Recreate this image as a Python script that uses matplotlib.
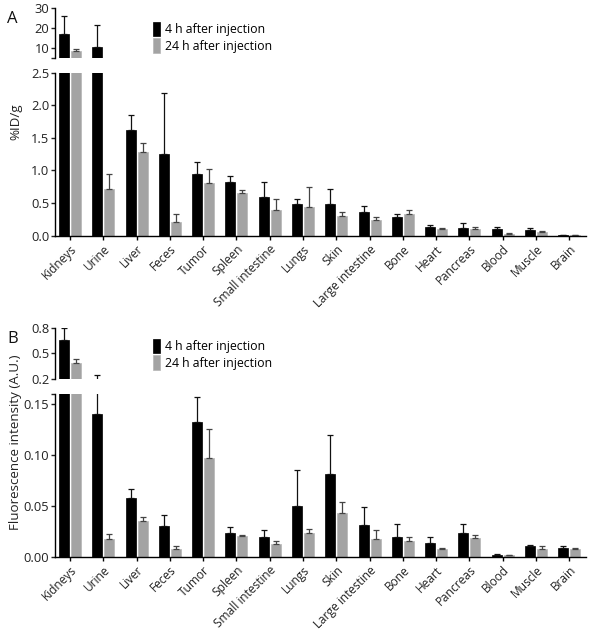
import numpy as np
import matplotlib
matplotlib.use("Agg")
import matplotlib.pyplot as plt

plt.rcParams['font.family'] = ['Open Sans', 'DejaVu Sans']

organs = ["Kidneys", "Urine", "Liver", "Feces", "Tumor", "Spleen", "Small intestine",
          "Lungs", "Skin", "Large intestine", "Bone", "Heart", "Pancreas", "Blood",
          "Muscle", "Brain"]

# panel A: %ID/g (mean, upper error)
a_4h = [16.8, 10.3, 1.62, 1.26, 0.95, 0.82, 0.60, 0.48, 0.48, 0.36, 0.29, 0.13, 0.12, 0.11, 0.08, 0.015]
a_4h_err = [9.0, 11.2, 0.23, 0.93, 0.18, 0.10, 0.23, 0.08, 0.24, 0.10, 0.04, 0.04, 0.075, 0.03, 0.04, 0.0]
a_24h = [8.6, 0.71, 1.29, 0.215, 0.81, 0.655, 0.39, 0.44, 0.30, 0.24, 0.34, 0.11, 0.11, 0.03, 0.05, 0.005]
a_24h_err = [1.1, 0.23, 0.13, 0.125, 0.22, 0.05, 0.18, 0.31, 0.06, 0.04, 0.05, 0.01, 0.02, 0.015, 0.015, 0.0]

# panel B: fluorescence intensity (A.U.)
b_4h = [0.66, 0.1405, 0.0577, 0.0304, 0.133, 0.0237, 0.0195, 0.050, 0.0815, 0.031, 0.0198,
        0.0135, 0.0234, 0.002, 0.0106, 0.0083]
b_4h_err = [0.14, 0.11, 0.0093, 0.0102, 0.024, 0.0053, 0.0069, 0.035, 0.0385, 0.0175, 0.0119,
            0.0057, 0.0089, 0.0005, 0.001, 0.002]
b_24h = [0.39, 0.0172, 0.0353, 0.0076, 0.0976, 0.0205, 0.0129, 0.0237, 0.0429, 0.0172, 0.0152,
         0.0076, 0.0182, 0.0015, 0.0073, 0.0073]
b_24h_err = [0.05, 0.0056, 0.0037, 0.0034, 0.0284, 0.001, 0.0029, 0.004, 0.0111, 0.0088, 0.0046,
             0.001, 0.0036, 0.0005, 0.0037, 0.0016]

BLACK = "#000000"
GREY = "#a3a3a3"
x = np.arange(len(organs))
w = 0.3
off = 0.18

fig = plt.figure(figsize=(5.9, 6.31), dpi=100)
L, W = 0.0932, 0.9


def draw_bars(ax, v4, e4, v24, e24):
    ax.bar(x - off, v4, w, color=BLACK, edgecolor=BLACK, linewidth=0.5,
           yerr=[np.zeros(len(v4)), e4], error_kw=dict(ecolor="#111111", elinewidth=0.9, capsize=2.2, capthick=0.9))
    ax.bar(x + off, v24, w, color=GREY, edgecolor="#b5b5b5", linewidth=0.5,
           yerr=[np.zeros(len(v24)), e24], error_kw=dict(ecolor="#444444", elinewidth=0.9, capsize=2.2, capthick=0.9))
    ax.set_xlim(-0.45, 15.5)
    for s in ("top", "right"):
        ax.spines[s].set_visible(False)
    ax.tick_params(axis="y", labelsize=9.3, length=3, width=1, pad=1, colors="#222222")
    ax.spines["left"].set_linewidth(1.0)
    ax.spines["bottom"].set_linewidth(1.0)


def panel(top_rect, bot_rect, v4, e4, v24, e24, top_lim, top_ticks, top_labels,
          bot_lim, bot_ticks, bot_labels, ylabel, letter, leg_y):
    axt = fig.add_axes(top_rect)
    axb = fig.add_axes(bot_rect)
    draw_bars(axt, v4, e4, v24, e24)
    draw_bars(axb, v4, e4, v24, e24)
    axt.set_ylim(*top_lim)
    axt.set_yticks(top_ticks)
    axt.set_yticklabels(top_labels)
    axt.spines["bottom"].set_visible(False)
    axt.set_xticks([])
    axb.set_ylim(*bot_lim)
    axb.set_yticks(bot_ticks)
    axb.set_yticklabels(bot_labels)
    axb.set_xticks(x)
    axb.set_xticklabels(organs, rotation=45, ha="right", rotation_mode="anchor", fontsize=8.6, color="#222222")
    axb.tick_params(axis="x", length=3, width=1, pad=2)
    # legend
    axt.legend(["4 h after injection", "24 h after injection"], loc="upper left",
               bbox_to_anchor=(0.17, leg_y), frameon=False, fontsize=8.8,
               handlelength=0.6, handleheight=1.4, handletextpad=0.4, labelspacing=0.2,
               borderaxespad=0.2)
    y0 = bot_rect[1]
    y1 = top_rect[1] + top_rect[3]
    fig.text(0.027, (y0 + y1) / 2, ylabel, rotation=90, ha="center", va="center", fontsize=9.6, color="#222222")
    fig.text(0.012, y1 - 0.005, letter, ha="left", va="top", fontsize=12, color="#111111")
    return axt, axb


panel([L, 0.9081, W, 0.0792], [L, 0.6265, W, 0.2583],
      a_4h, a_4h_err, a_24h, a_24h_err,
      (5, 30), [5, 10, 20, 30], ["", "10", "20", "30"],
      (0, 2.5), [0, 0.5, 1.0, 1.5, 2.0, 2.5], ["0.0", "0.5", "1.0", "1.5", "2.0", "2.5"],
      "%ID/g", "A", 0.87)

panel([L, 0.3994, W, 0.0808], [L, 0.1178, W, 0.2574],
      b_4h, b_4h_err, b_24h, b_24h_err,
      (0.2, 0.8), [0.2, 0.5, 0.8], ["0.2", "0.5", "0.8"],
      (0, 0.16), [0, 0.05, 0.10, 0.15, 0.16], ["0.00", "0.05", "0.10", "0.15", ""],
      "Fluorescence intensity (A.U.)", "B", 0.93)

fig.savefig("out.png", dpi=100)
